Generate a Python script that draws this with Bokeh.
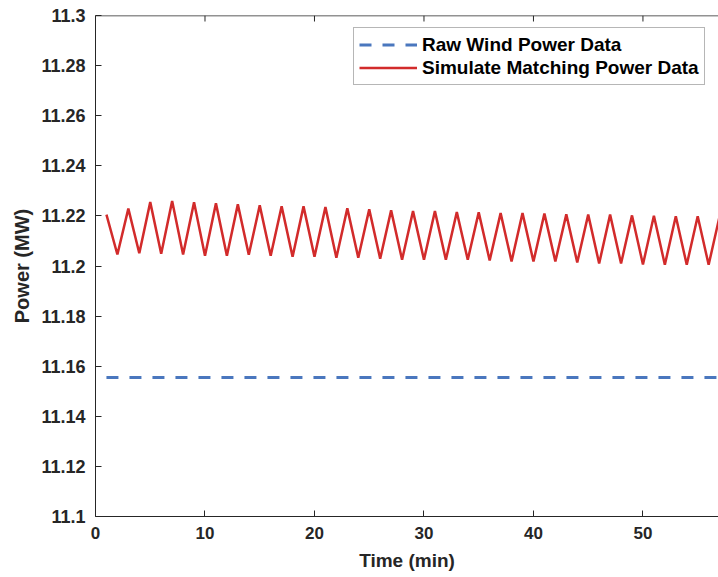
from bokeh.plotting import figure
from bokeh.models import Legend, LegendItem, FixedTicker, Range1d, Span
from bokeh.embed import file_html
from bokeh.resources import INLINE

# ---- data ----
time_min = list(range(1, 58))
sim_power = [
    11.2205, 11.2046, 11.2229, 11.2051, 11.2255, 11.2049, 11.2259, 11.2046, 11.2254, 11.2041,
    11.2250, 11.2041, 11.2246, 11.2045, 11.2242, 11.2041, 11.2238, 11.2037, 11.2238, 11.2037,
    11.2235, 11.2033, 11.2230, 11.2033, 11.2226, 11.2029, 11.2222, 11.2025, 11.2219, 11.2025,
    11.2219, 11.2025, 11.2215, 11.2025, 11.2214, 11.2022, 11.2211, 11.2018, 11.2211, 11.2018,
    11.2209, 11.2018, 11.2206, 11.2014, 11.2205, 11.2010, 11.2205, 11.2010, 11.2202, 11.2006,
    11.2201, 11.2005, 11.2199, 11.2005, 11.2199, 11.2005, 11.2198,
]
raw_power = [11.1555] * len(time_min)

x_ticks = [0, 10, 20, 30, 40, 50]
y_ticks = [11.1, 11.12, 11.14, 11.16, 11.18, 11.2, 11.22, 11.24, 11.26, 11.28, 11.3]
y_tick_labels = ["11.1", "11.12", "11.14", "11.16", "11.18", "11.2", "11.22", "11.24", "11.26", "11.28", "11.3"]

FONT = "Liberation Sans"
AX = "#262626"
Y0, Y1 = 11.1, 11.3

p = figure(width=718, height=577, output_backend="svg", toolbar_location=None,
           x_range=Range1d(0, 56.9), y_range=Range1d(Y0, Y1),
           min_border_left=95, min_border_right=0, min_border_top=15, min_border_bottom=61)
p.outline_line_color = None
p.grid.visible = False
p.background_fill_color = "white"
p.border_fill_color = "white"

red = p.line(time_min, sim_power, line_color="#D22B2B", line_width=2.5)
blue = p.line(time_min, raw_power, line_color="#4A77BE", line_width=3, line_dash="12 11")

for ax in (p.xaxis[0], p.yaxis[0]):
    ax.axis_line_color = AX
    ax.major_tick_line_color = AX
    ax.major_tick_in = 6
    ax.major_tick_out = 0
    ax.minor_tick_line_color = None
    ax.major_label_text_font = FONT
    ax.major_label_text_font_style = "bold"
    ax.major_label_text_color = AX
    ax.axis_label_text_font = FONT
    ax.axis_label_text_font_style = "bold"
    ax.axis_label_text_font_size = "19px"
    ax.axis_label_text_color = AX

p.xaxis[0].major_label_text_font_size = "17px"
p.yaxis[0].major_label_text_font_size = "18px"
p.yaxis[0].axis_label_text_font_size = "20px"
p.xaxis[0].ticker = FixedTicker(ticks=x_ticks)
p.yaxis[0].ticker = FixedTicker(ticks=y_ticks)
p.yaxis[0].major_label_overrides = {t: l for t, l in zip(y_ticks, y_tick_labels)}
p.xaxis[0].axis_label = "Time (min)"
p.yaxis[0].axis_label = "Power (MW)"
p.xaxis[0].major_label_standoff = 10
p.yaxis[0].major_label_standoff = 10
p.xaxis[0].axis_label_standoff = 8
p.yaxis[0].axis_label_standoff = 5

# top box edge with inward ticks (MATLAB style, right edge cropped)
p.add_layout(Span(location=Y1, dimension="width", line_color=AX, line_width=1.5))
tick_len = (Y1 - Y0) * 6 / 501
p.segment(x0=x_ticks, y0=[Y1] * len(x_ticks), x1=x_ticks, y1=[Y1 - tick_len] * len(x_ticks),
          line_color=AX, line_width=1)

legend = Legend(items=[LegendItem(label="Raw Wind Power Data", renderers=[blue]),
                       LegendItem(label="Simulate Matching Power Data", renderers=[red])],
                location=(258, 431))
legend.label_text_font = FONT
legend.label_text_font_style = "bold"
legend.label_text_font_size = "19px"
legend.label_text_color = "black"
legend.glyph_width = 58
legend.glyph_height = 23
legend.label_height = 23
legend.label_standoff = 5
legend.spacing = 0
legend.padding = 5
legend.margin = 0
legend.border_line_color = "#6e6e6e"
legend.border_line_width = 1
legend.background_fill_color = "white"
legend.background_fill_alpha = 1
p.add_layout(legend)

open("out.html", "w").write(file_html(p, INLINE))
